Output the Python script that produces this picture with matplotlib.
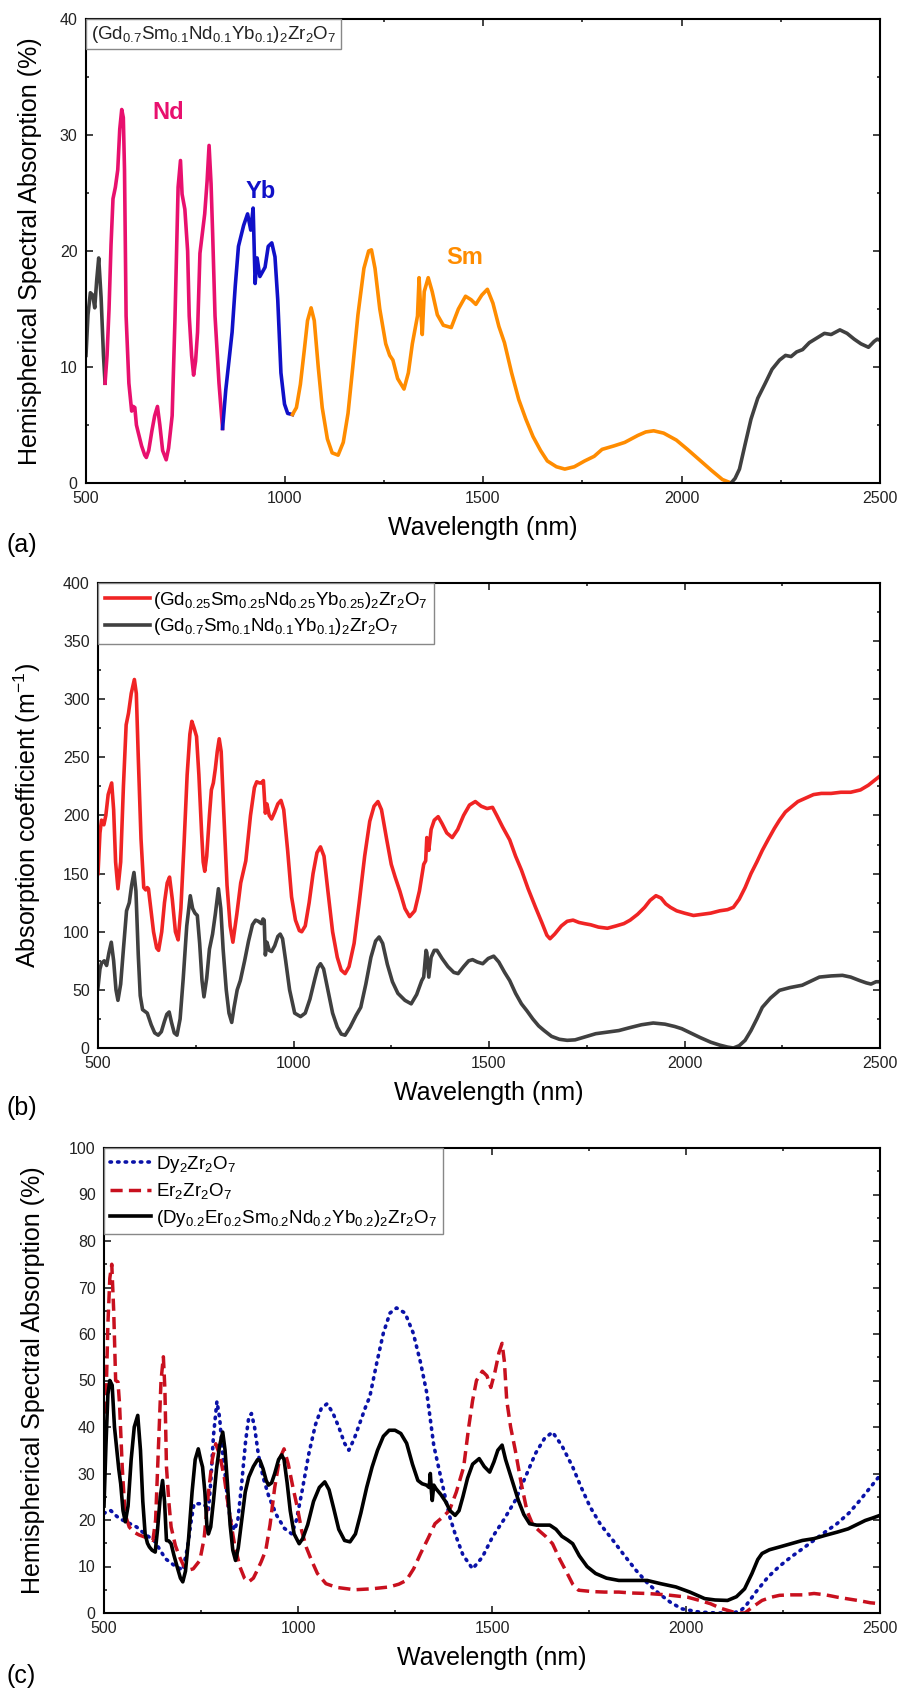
import matplotlib
matplotlib.use("Agg")
import matplotlib.pyplot as plt
from matplotlib.ticker import MultipleLocator
from matplotlib.offsetbox import AnchoredText

plt.rcParams['font.family'] = ['Liberation Sans', 'DejaVu Sans']
plt.rcParams['mathtext.default'] = 'regular'

# ---------------- panel (a): (Gd0.7Sm0.1Nd0.1Yb0.1)2Zr2O7, coloured by element ----------------
grey1_x = [500, 505, 511, 517, 522, 527, 532, 538, 544, 548]
grey1_y = [11.0, 14.5, 16.4, 16.2, 15.1, 17.5, 19.4, 16.0, 11.0, 8.6]

nd_x = [548, 553, 558, 563, 568, 574, 580, 585, 590, 594, 597, 601, 608, 615, 619, 623, 627,
        632, 640, 648, 652, 658, 666, 673, 680, 686, 693, 702, 708, 717, 724, 732, 738, 742,
        749, 756, 760, 766, 771, 776, 781, 787, 793, 799, 805, 810, 815, 819, 825, 835, 844]
nd_y = [8.6, 11, 15, 20.5, 24.5, 25.5, 27, 30.5, 32.2, 31.5, 27, 14.4, 8.6, 6.2, 6.6, 6.5, 5.0,
        4.3, 3.2, 2.4, 2.2, 2.8, 4.5, 5.8, 6.6, 5.0, 2.8, 2.0, 3.0, 5.8, 14, 25.5, 27.8, 24.9,
        23.6, 20, 14.4, 11, 9.3, 10.5, 13, 19.8, 21.5, 23.2, 26, 29.1, 25.8, 21.5, 14.4, 8.6, 4.7]

yb_x = [844, 852, 860, 868, 876, 884, 897, 907, 915, 921, 926, 931, 938, 951, 959, 968, 976,
        983, 991, 1000, 1008, 1020]
yb_y = [4.7, 8, 10.5, 13, 17, 20.4, 22.2, 23.2, 21.8, 23.7, 17.2, 19.4, 17.8, 18.6, 20.4, 20.7,
        19.5, 15.8, 9.5, 6.8, 6.0, 5.9]

sm_x = [1020, 1030, 1040, 1050, 1058, 1067, 1075, 1085, 1095, 1108, 1120, 1135, 1148, 1160,
        1172, 1185, 1200, 1212, 1219, 1228, 1240, 1255, 1265, 1273, 1285, 1301, 1312, 1322,
        1335, 1339, 1343, 1347, 1352, 1362, 1372, 1385, 1400, 1420, 1438, 1456, 1470, 1482,
        1497, 1511, 1525, 1540, 1554, 1572, 1590, 1608, 1626, 1645, 1662, 1685, 1706, 1730,
        1756, 1780, 1800, 1830, 1857, 1890, 1910, 1930, 1955, 1987, 2015, 2045, 2075, 2103, 2125]
sm_y = [5.9, 6.5, 8.5, 11.5, 14, 15.1, 14, 10, 6.5, 3.8, 2.6, 2.4, 3.5, 6, 10, 14.5, 18.5, 20,
        20.1, 18.5, 15, 12, 11, 10.6, 9, 8.1, 9.5, 12, 14.4, 17.7, 15, 12.8, 16.5, 17.7, 16.5,
        14.5, 13.6, 13.4, 15, 16.1, 15.8, 15.4, 16.2, 16.7, 15.5, 13.5, 12.1, 9.5, 7.2, 5.5, 4.0,
        2.8, 1.9, 1.4, 1.2, 1.4, 1.9, 2.3, 2.9, 3.2, 3.5, 4.1, 4.4, 4.5, 4.3, 3.7, 2.9, 2.0, 1.1,
        0.3, 0.0]

grey2_x = [2125, 2135, 2146, 2160, 2175, 2192, 2211, 2228, 2247, 2262, 2276, 2290, 2305, 2322,
           2341, 2360, 2377, 2399, 2417, 2435, 2452, 2471, 2485, 2493, 2500]
grey2_y = [0, 0.4, 1.2, 3.3, 5.5, 7.3, 8.6, 9.8, 10.6, 11.0, 10.9, 11.3, 11.5, 12.1, 12.5, 12.9,
           12.8, 13.2, 12.9, 12.4, 12.0, 11.7, 12.2, 12.4, 12.3]

# ---------------- panel (b): absorption coefficient ----------------
b_red_x = [500, 505, 509, 515, 520, 526, 535, 540, 545, 551, 558, 565, 572, 578, 585, 593, 598,
           603, 610, 617, 622, 626, 629, 635, 642, 650, 655, 663, 670, 677, 683, 690, 698, 705,
           712, 720, 728, 735, 740, 746, 752, 758, 765, 769, 773, 778, 785, 790, 795, 800, 805,
           810, 815, 822, 830, 838, 845, 855, 865, 878, 890, 900, 906, 913, 918, 923, 928, 932,
           938, 944, 952, 960, 968, 975, 985, 995, 1005, 1015, 1021, 1030, 1040, 1050, 1060,
           1069, 1078, 1088, 1100, 1112, 1122, 1132, 1142, 1155, 1168, 1182, 1195, 1206, 1216,
           1225, 1238, 1250, 1260, 1272, 1285, 1297, 1310, 1322, 1333, 1338, 1341, 1343, 1346,
           1352, 1360, 1370, 1380, 1392, 1406, 1420, 1435, 1450, 1465, 1480, 1495, 1509, 1520,
           1535, 1553, 1568, 1583, 1600, 1619, 1635, 1648, 1656, 1668, 1685, 1700, 1715, 1730,
           1744, 1760, 1780, 1803, 1825, 1845, 1861, 1880, 1898, 1912, 1927, 1940, 1952, 1964,
           1980, 2000, 2023, 2045, 2067, 2090, 2110, 2125, 2140, 2155, 2170, 2185, 2199, 2215,
           2230, 2243, 2258, 2272, 2290, 2310, 2330, 2350, 2375, 2400, 2425, 2450, 2470, 2485, 2500]
b_red_y = [150, 185, 196, 192, 200, 218, 228, 205, 160, 137, 160, 225, 278, 288, 305, 317, 305,
           250, 180, 138, 136, 138, 137, 120, 100, 86, 84, 100, 125, 142, 147, 128, 100, 93,
           120, 175, 235, 270, 281, 275, 268, 235, 185, 160, 152, 165, 200, 222, 228, 240, 255,
           266, 255, 200, 140, 105, 91, 115, 142, 161, 200, 224, 229, 228, 228, 230, 202, 210,
           200, 197, 203, 210, 213, 205, 170, 130, 110, 101, 100, 105, 125, 150, 168,
           173, 165, 135, 100, 78, 67, 64, 70, 90, 125, 165, 195, 208, 212,
           205, 180, 158, 147, 135, 120, 113, 118, 135, 158, 161, 181, 175, 170,
           188, 196, 199, 193, 185, 181, 188, 200, 209, 212, 208, 206, 207, 200,
           190, 179, 165, 153, 137, 121, 108, 97, 94, 98, 105, 109, 110, 108,
           107, 106, 104, 103, 105, 107, 110, 115, 121, 127, 131, 129, 124, 121,
           118, 116, 114, 115, 116, 118, 119, 121, 128, 138, 150, 160, 170, 180,
           189, 196, 203, 207, 212, 215, 218, 219, 219, 220, 220, 222, 226, 230, 234]

b_grey_x = [500, 505, 509, 516, 522, 528, 534, 540, 546, 551, 558, 565, 573, 580, 586, 592, 597,
            603, 608, 614, 618, 622, 626, 629, 636, 645, 654, 662, 670, 676, 682, 688, 695, 702,
            710, 718, 727, 736, 742, 748, 754, 760, 766, 771, 778, 785, 793, 800, 808, 814, 820,
            828, 835, 842, 848, 856, 864, 875, 885, 895, 903, 910, 918, 922, 925, 928, 932, 938,
            944, 952, 960, 966, 972, 980, 990, 1003, 1018, 1030, 1042, 1055, 1062, 1069, 1077,
            1088, 1100, 1112, 1122, 1132, 1145, 1160, 1172, 1185, 1198, 1210, 1219, 1228, 1240,
            1253, 1267, 1285, 1301, 1315, 1328, 1333, 1339, 1341, 1346, 1352, 1360, 1367, 1380,
            1395, 1410, 1421, 1435, 1448, 1458, 1470, 1484, 1498, 1512, 1525, 1540, 1553, 1568,
            1583, 1597, 1612, 1627, 1641, 1660, 1680, 1700, 1720, 1745, 1773, 1800, 1832, 1860,
            1890, 1920, 1950, 1975, 1993, 2015, 2040, 2067, 2090, 2110, 2125, 2140, 2155, 2170,
            2185, 2199, 2220, 2243, 2270, 2301, 2320, 2345, 2375, 2404, 2425, 2448, 2465, 2477,
            2490, 2500]
b_grey_y = [52, 68, 73, 75, 71, 82, 91, 75, 50, 41, 55, 85, 118, 125, 140, 151, 135,
            80, 45, 33, 32, 31, 30, 27, 20, 13, 11, 14, 23, 29, 31, 22, 13, 11,
            25, 60, 105, 131, 120, 116, 114, 90, 58, 44, 60, 85, 98, 115, 137, 120, 85,
            50, 30, 22, 35, 50, 58, 75, 92, 106, 110, 109, 107, 111, 110, 80, 91, 84,
            83, 88, 96, 98, 94, 75, 50, 30, 27, 30, 42, 60, 69, 72.5, 68,
            50, 30, 18, 12, 11, 18, 28, 35, 55, 78, 92, 95.5, 90, 72,
            57, 47, 41, 38, 46, 58, 61, 84, 82, 61, 78, 84, 84, 77,
            70, 65, 64, 70, 75, 76, 74, 72.5, 77, 79, 74, 65, 58, 47,
            38, 32, 25, 19, 15, 10, 7.5, 6.6, 7, 9.5, 12.3, 13.5, 15, 17.5,
            20, 21.5, 20.5, 18.5, 16.6, 13, 9, 5, 2.5, 0.8, 0, 2, 6.6, 15,
            25, 35, 43, 49.6, 52, 54, 57, 61, 62, 62.5, 61, 58, 56, 55,
            57, 57]

# ---------------- panel (c): Dy2Zr2O7, Er2Zr2O7 and the 5-cation oxide ----------------
c_dy_x = [500, 510, 518, 530, 540, 560, 584, 605, 629, 645, 658, 680, 703, 715, 725, 732, 745,
          754, 762, 769, 775, 782, 791, 798, 806, 813, 820, 828, 836, 845, 855, 865, 873, 880,
          888, 898, 910, 925, 945, 965, 984, 996, 1010, 1028, 1045, 1060, 1075, 1090, 1105,
          1120, 1131, 1145, 1160, 1175, 1185, 1203, 1220, 1237, 1254, 1276, 1297, 1316, 1332,
          1350, 1368, 1390, 1405, 1425, 1450, 1475, 1501, 1530, 1560, 1590, 1612, 1635, 1656,
          1680, 1708, 1730, 1753, 1780, 1812, 1840, 1871, 1900, 1930, 1960, 1989, 2034, 2080,
          2122, 2140, 2152, 2180, 2211, 2240, 2270, 2300, 2329, 2360, 2389, 2420, 2448, 2475, 2500]
c_dy_y = [21.4, 22, 22, 21, 20.3, 19.5, 18.5, 17, 15.6, 13.5, 11.7, 10.3, 9.2, 14, 20, 23.5, 23.5,
          23.5, 23, 22, 28, 38, 45.5, 42, 34, 29.2, 23, 19.5, 17.8, 20, 28, 37, 42, 42.9,
          40, 34, 29.2, 25, 21, 18.2, 17, 20, 26, 34.3, 40.5, 44, 45, 43, 40,
          36.5, 35, 37.5, 41, 44.5, 46.5, 53.8, 60.2, 64.5, 65.6, 64.5, 60.2, 53.8, 47.3,
          36, 29.2, 21, 17, 12.5, 9.5, 12, 16.3, 20, 24.2, 30, 34.3, 37.5, 38.9,
          36, 31.4, 27, 22.8, 19, 15.6, 12.5, 9.2, 6.5, 4.2, 2.3, 0.9, 0.2, 0,
          0, 0.5, 1.3, 4.5, 7.7, 10, 12, 13.8, 15.6, 17.5, 19.2, 21.5, 24.2, 27, 29.6]

c_er_x = [500, 505, 510, 515, 520, 525, 530, 536, 540, 547, 553, 558, 565, 577, 590, 606, 618,
          626, 633, 640, 647, 653, 657, 661, 667, 673, 684, 695, 705, 717, 730, 747, 758, 769,
          779, 788, 798, 810, 822, 836, 850, 862, 873, 885, 895, 905, 917, 928, 940, 952, 964,
          975, 987, 998, 1010, 1022, 1035, 1050, 1072, 1100, 1146, 1190, 1235, 1260, 1279, 1298,
          1316, 1335, 1353, 1371, 1390, 1408, 1427, 1440, 1450, 1460, 1475, 1487, 1497, 1508,
          1518, 1526, 1532, 1538, 1548, 1560, 1575, 1590, 1605, 1620, 1638, 1656, 1675, 1694,
          1708, 1723, 1760, 1790, 1827, 1860, 1900, 1950, 2004, 2035, 2063, 2090, 2122, 2140,
          2152, 2170, 2196, 2220, 2241, 2270, 2300, 2330, 2360, 2390, 2420, 2450, 2475, 2500]
c_er_y = [31, 45, 62, 72, 75, 65, 50, 49.7, 45, 31.4, 23, 20.3, 18.5, 17.4, 16.8, 16.3, 16,
          15.6, 20, 35, 50, 55.1, 48, 31.4, 24, 18.5, 14.5, 12, 10.2, 9.2, 9.5, 11.3, 16, 25.7,
          33, 36.4, 34, 29.2, 22, 14.9, 10, 7.5, 6.7, 7.5, 9.2, 11, 13.5, 19, 27, 33, 35.3,
          32, 27, 22.8, 17.5, 14, 11.3, 8.5, 6.3, 5.5, 5, 5.2, 5.6, 6.2, 7.0, 9.5,
          12.8, 16, 19.2, 20.5, 22, 26, 31.4, 40, 45.7, 50, 52, 51, 48.5, 52,
          56, 58, 54, 45.7, 40, 35, 28, 22, 19, 17.8, 16.5, 14.9, 11.5, 8.5,
          6.2, 4.9, 4.6, 4.5, 4.5, 4.3, 4.2, 3.9, 3.4, 2.7, 2.0, 1.0, 0.2, 0,
          0, 1.2, 2.7, 3.4, 3.8, 3.9, 3.9, 4.2, 3.9, 3.4, 3.0, 2.6, 2.2, 2]

c_mix_x = [500, 505, 510, 515, 521, 527, 533, 538, 543, 549, 555, 562, 570, 578, 587, 594, 600,
           606, 612, 617, 624, 632, 638, 645, 651, 656, 661, 667, 673, 680, 690, 697, 703, 710,
           718, 727, 735, 743, 749, 754, 760, 765, 769, 775, 782, 790, 798, 806, 812, 818, 825,
           832, 839, 846, 855, 864, 873, 885, 896, 902, 910, 918, 924, 932, 940, 950, 958, 964,
           972, 980, 990, 1003, 1012, 1025, 1040, 1055, 1069, 1080, 1092, 1105, 1120, 1134,
           1148, 1162, 1177, 1191, 1205, 1220, 1235, 1250, 1265, 1280, 1295, 1309, 1320, 1331,
           1338, 1341, 1344, 1346, 1350, 1356, 1368, 1380, 1392, 1405, 1415, 1425, 1437, 1450,
           1467, 1480, 1494, 1505, 1515, 1526, 1535, 1550, 1568, 1582, 1597, 1615, 1635, 1649,
           1665, 1680, 1695, 1708, 1725, 1745, 1767, 1795, 1827, 1860, 1900, 1935, 1974, 2010,
           2048, 2075, 2107, 2130, 2151, 2170, 2185, 2196, 2215, 2241, 2270, 2300, 2330, 2359,
           2390, 2418, 2440, 2462, 2480, 2500]
c_mix_y = [23, 36, 47, 50, 49, 40, 35, 31, 27.8, 22, 19.6, 23, 33, 40, 42.5, 35, 24,
           17, 15, 14.2, 13.5, 13.1, 18, 25, 28.5, 24, 15.6, 15.5, 14.9, 12.5, 9.5, 7.5, 6.7, 9,
           16, 26, 33, 35.3, 33, 31.4, 26, 19, 17, 18.5, 24, 31, 36, 38.9, 35, 28, 19,
           13.5, 11.3, 14, 20, 26, 29.2, 31.5, 33, 32.8, 31, 28.5, 27.5, 28, 30, 33, 34, 33,
           28, 22, 17, 14.9, 16, 19, 24, 27, 28.2, 26.5, 22.5, 18, 15.6, 15.3,
           17, 21.5, 27, 31.4, 35, 38, 39.3, 39.3, 38.6, 36.5, 32, 28.5, 27.8, 27.5,
           27, 30, 26, 24.2, 27.5, 26.7, 25.5, 24, 22, 21, 22, 25, 29, 32,
           33.2, 31.5, 30.3, 32.5, 35, 36.1, 33, 29, 24.2, 21.2, 19.2, 18.9, 18.9, 18.9,
           18, 16.5, 15.7, 14.9, 12.3, 10, 8.5, 7.5, 7.0, 7.0, 7.0, 6.3, 5.6, 4.5,
           3.1, 2.8, 2.7, 3.5, 5.2, 8.5, 11.5, 12.8, 13.6, 14.2, 14.9, 15.6, 16, 16.7,
           17.4, 18.1, 19, 19.9, 20.4, 21]

# ---------------- figure ----------------
W, H = 899, 1688
fig = plt.figure(figsize=(W / 100, H / 100), dpi=100)


def px_axes(left, top, right, bottom):
    return fig.add_axes([left / W, 1 - bottom / H, (right - left) / W, (bottom - top) / H])


def style(ax, ymax, ymajor, yminor):
    ax.set_xlim(500, 2500)
    ax.set_ylim(0, ymax)
    ax.xaxis.set_major_locator(MultipleLocator(500))
    ax.xaxis.set_minor_locator(MultipleLocator(250))
    ax.yaxis.set_major_locator(MultipleLocator(ymajor))
    ax.yaxis.set_minor_locator(MultipleLocator(yminor))
    ax.tick_params(which='both', direction='in', top=True, right=True, width=1.2,
                   labelsize=11.5, pad=6, colors='#222222')
    ax.tick_params(which='major', length=5)
    ax.tick_params(which='minor', length=2.5)
    for s in ax.spines.values():
        s.set_linewidth(1.5)
    ax.set_xlabel('Wavelength (nm)', fontsize=18)
    ax.xaxis.set_label_coords(0.5, -0.072)


# (a)
ax1 = px_axes(86, 19, 880, 483)
lw = 2.6
ax1.plot(grey1_x, grey1_y, color='#404040', lw=lw)
ax1.plot(nd_x, nd_y, color='#E8106E', lw=lw)
ax1.plot(yb_x, yb_y, color='#1010C8', lw=lw)
ax1.plot(sm_x, sm_y, color='#FF8C00', lw=lw)
ax1.plot(grey2_x, grey2_y, color='#404040', lw=lw)
style(ax1, 40, 10, 5)
ax1.set_ylabel('Hemispherical Spectral Absorption (%)', fontsize=18)
ax1.yaxis.set_label_coords(-0.056, 0.5)
ax1.text(707, 31.9, 'Nd', color='#E8106E', fontsize=17, fontweight='bold', ha='center', va='center')
ax1.text(941, 25.1, 'Yb', color='#1010C8', fontsize=17, fontweight='bold', ha='center', va='center')
ax1.text(1453, 19.4, 'Sm', color='#FF8C00', fontsize=17, fontweight='bold', ha='center', va='center')
at = AnchoredText(r'(Gd$_{0.7}$Sm$_{0.1}$Nd$_{0.1}$Yb$_{0.1}$)$_2$Zr$_2$O$_7$', loc='upper left',
                  borderpad=0, pad=0.25, prop=dict(fontsize=13.5, color='#222222'))
at.patch.set_edgecolor('#888888')
at.patch.set_linewidth(1.0)
ax1.add_artist(at)

# (b)
ax2 = px_axes(98, 583, 880, 1048)
ax2.plot(b_red_x, b_red_y, color='#F02424', lw=lw,
         label=r'(Gd$_{0.25}$Sm$_{0.25}$Nd$_{0.25}$Yb$_{0.25}$)$_2$Zr$_2$O$_7$')
ax2.plot(b_grey_x, b_grey_y, color='#404040', lw=lw,
         label=r'(Gd$_{0.7}$Sm$_{0.1}$Nd$_{0.1}$Yb$_{0.1}$)$_2$Zr$_2$O$_7$')
style(ax2, 400, 50, 25)
ax2.set_ylabel(r'Absorption coefficient (m$^{-1}$)', fontsize=18)
ax2.yaxis.set_label_coords(-0.070, 0.5)
leg = ax2.legend(loc='upper left', borderaxespad=0, fancybox=False, fontsize=13.5,
                 handlelength=2.4, handletextpad=0.2, borderpad=0.35, labelspacing=0.3,
                 framealpha=1, edgecolor='#888888')
leg.get_frame().set_linewidth(1.0)

# (c)
ax3 = px_axes(104, 1148, 880, 1613)
ax3.plot(c_dy_x, c_dy_y, color='#0A12A8', lw=2.6, linestyle=(0, (0.4, 1.7)),
         dash_capstyle='round', label=r'Dy$_2$Zr$_2$O$_7$')
ax3.plot(c_er_x, c_er_y, color='#C8101E', lw=2.5, linestyle=(0, (3.5, 1.8)),
         label=r'Er$_2$Zr$_2$O$_7$')
ax3.plot(c_mix_x, c_mix_y, color='black', lw=2.6,
         label=r'(Dy$_{0.2}$Er$_{0.2}$Sm$_{0.2}$Nd$_{0.2}$Yb$_{0.2}$)$_2$Zr$_2$O$_7$')
style(ax3, 100, 10, 5)
ax3.set_ylabel('Hemispherical Spectral Absorption (%)', fontsize=18)
ax3.yaxis.set_label_coords(-0.076, 0.5)
leg = ax3.legend(loc='upper left', borderaxespad=0, fancybox=False, fontsize=13.5,
                 handlelength=2.2, handletextpad=0.3, borderpad=0.3, labelspacing=0.35,
                 framealpha=1, edgecolor='#888888')
leg.get_frame().set_linewidth(1.0)

# panel letters
fig.text(7 / W, 1 - 545 / H, '(a)', fontsize=18, va='center', ha='left')
fig.text(7 / W, 1 - 1108 / H, '(b)', fontsize=18, va='center', ha='left')
fig.text(7 / W, 1 - 1676 / H, '(c)', fontsize=18, va='center', ha='left')

fig.savefig('out.png', dpi=100)
